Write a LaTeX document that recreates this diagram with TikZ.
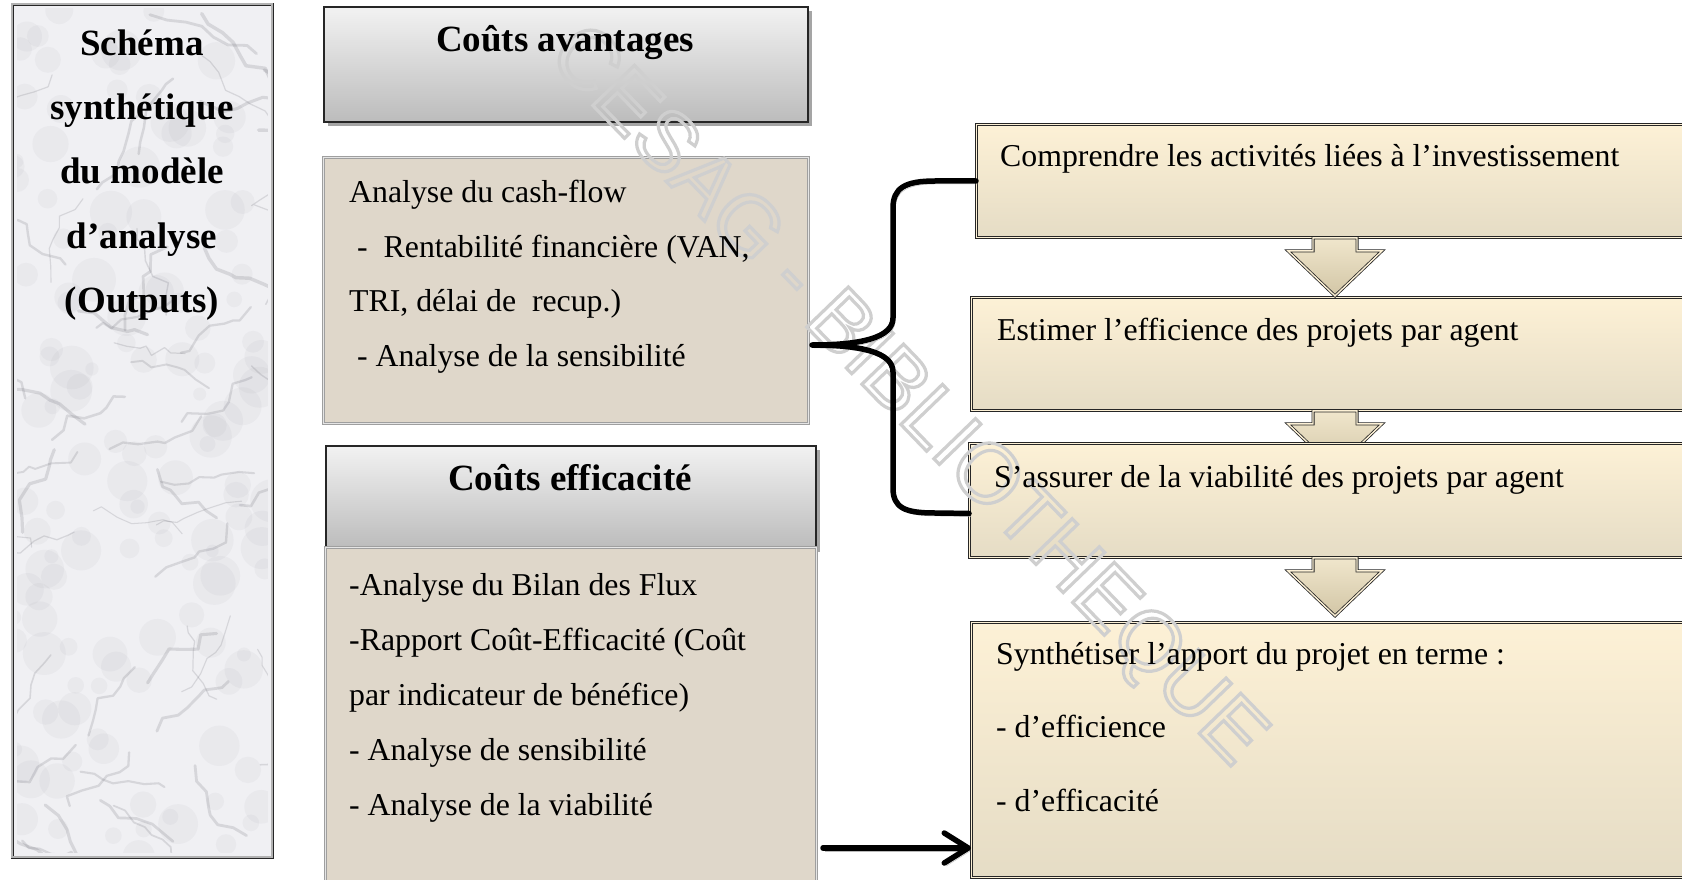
\documentclass[tikz,border=0pt]{standalone}
\usepackage{fontspec}
\setmainfont{Liberation Serif}
\newfontfamily\wmfont{Liberation Sans}
\usepackage{tikz}
\usetikzlibrary{arrows.meta,calc,shadows}
\definecolor{marble}{RGB}{240,240,243}
\definecolor{vein}{RGB}{110,110,120}
\definecolor{sand}{RGB}{223,215,202}
\definecolor{headtop}{RGB}{242,242,242}
\definecolor{headbot}{RGB}{188,188,188}
\definecolor{creamtop}{RGB}{253,241,214}
\definecolor{creambot}{RGB}{229,220,197}
\definecolor{arrtop}{RGB}{240,230,204}
\definecolor{arrbot}{RGB}{210,198,166}

\tikzset{
  panel/.style={anchor=north west,inner sep=0,fill=marble,draw=black!85,line width=0.8pt,double=gray!60,double distance=2pt},
  headbox/.style={anchor=north west,inner sep=0,draw=black!85,line width=1.6pt,top color=headtop,bottom color=headbot,drop shadow={shadow xshift=4pt,shadow yshift=-4pt,fill=black!70}},
  anabox/.style={anchor=north west,inner sep=0,fill=sand,draw=gray!75,line width=0.9pt,double=gray!20,double distance=1.6pt},
  stepbox/.style={anchor=north west,inner sep=0,top color=creamtop,bottom color=creambot,draw=black!85,line width=0.9pt,double=creamtop,double distance=1.6pt},
  downarr/.style={top color=arrtop,bottom color=arrbot,draw=black!85,line width=0.8pt,double=creamtop,double distance=1.4pt,line join=miter},
  brace/.style={line width=5.5pt,line cap=round,line join=round,preaction={draw=gray!55,transform canvas={xshift=2pt,yshift=-3pt}}},
  paneltxt/.style={inner sep=0,anchor=north,align=center,font=\bfseries\fontsize{37}{64.4}\selectfont},
  headtxt/.style={inner sep=0,anchor=base,font=\bfseries\fontsize{37}{44}\selectfont},
  bodytxt/.style={inner sep=0,align=left,font=\fontsize{31.8}{54.5}\selectfont},
  wmark/.style={inner sep=0,text=gray!38,font=\wmfont\fontsize{84}{90}\selectfont}
}

\begin{document}
\begin{tikzpicture}[x=1pt,y=-1pt]
  \useasboundingbox (0,0) rectangle (1682,880);
  \fill[white] (0,0) rectangle (1682,880);
  \clip (0,0) rectangle (1682,880);
  % left panel
  \node[panel,minimum width=260,minimum height=853] (P) at (12,4) {};
  \begin{scope}
    \clip ($(P.north west)+(5,5)$) rectangle ($(P.south east)+(-5,-5)$);
    \pgfmathsetseed{7}
    \foreach \i in {1,...,140}
      \fill[vein,opacity=0.05] ({12+260*rnd},{4+853*rnd}) circle ({6+16*rnd});
    \foreach \i in {1,...,55}{
      \pgfmathsetmacro\vt{-65+130*rnd}
      \draw[vein,opacity=0.2,line width={1+2.5*rnd},line join=round,line cap=round] ({-20+300*rnd},{4+853*rnd})
        \foreach \k in {1,...,7}{ -- ++({\vt-40+80*rnd}:{6+14*rnd}) };
    }
  \end{scope}
  % cost boxes
  \node[headbox,minimum width=484,minimum height=115] (H1) at (323,6) {};
  \node[anabox,minimum width=485,minimum height=266] (A1) at (323,157) {};
  \node[headbox,minimum width=490,minimum height=102] (H2) at (325,445) {};
  \node[anabox,minimum width=491,minimum height=345] (A2) at (325,547) {};
  % steps on the right
  \coordinate (ax) at (1335,0);
  \node[stepbox,minimum width=740,minimum height=113] (R1) at (976,124) {};
  \node[stepbox,minimum width=740,minimum height=113] (R2) at (971,297) {};
  \foreach \f in {R1,R2}
    \draw[downarr] (\f.south -| ax) ++(-22,0) -- ++(0,13) -- ++(-25,0) -- ++(47,45) -- ++(47,-45) -- ++(-25,0) -- ++(0,-13) -- cycle;
  \node[stepbox,minimum width=740,minimum height=114] (R3) at (969,443) {};
  \node[stepbox,minimum width=740,minimum height=255] (R4) at (971,622) {};
  \draw[downarr] (R3.south -| ax) ++(-22,0) -- ++(0,13) -- ++(-25,0) -- ++(47,45) -- ++(47,-45) -- ++(-25,0) -- ++(0,-13) -- cycle;
  % watermark
  \begin{scope}
    \node[wmark,rotate=-46] (wm) at (905,398) {\special{pdf:literal direct 1 Tr 3.2 w}CESAG - BIBLIOTHEQUE\special{pdf:literal direct 0 Tr 1 w}};
  \end{scope}
  % brace and arrow
  \coordinate (bt) at (812,345);
  \coordinate (bb) at ($(R3.west)+(0,13)$);
  \draw[brace] (R1.west) -- (935,181) .. controls (905,181) and (893,188) .. (893,208) -- (893,318) .. controls (893,338) and (860,345) .. (bt) .. controls (860,345) and (893,352) .. (893,372) -- (893,488) .. controls (893,508) and (905,513) .. (935,513) -- (bb);
  \coordinate (as) at (823,848);
  \draw[brace,-{Straight Barb[round,length=24pt,width=30pt]}] (as) -- (as -| R4.west);
  % texts
  \node[paneltxt] (tP) at (142,9.9) {\strut Schéma\\synthétique\\du modèle\\d’analyse\\(Outputs)};
  \node[headtxt] (tH1) at (565,52) {Coûts avantages};
  \node[bodytxt,anchor=north west] (tA1) at (349,164.5) {\strut Analyse du cash-flow\\\hspace*{8pt}-\ \ Rentabilité financière (VAN,\\TRI, délai de\ \ recup.)\\\hspace*{8pt}- Analyse de la sensibilité};
  \node[headtxt] (tH2) at (570,490) {Coûts efficacité};
  \node[bodytxt,anchor=north west,font=\fontsize{31.8}{55}\selectfont] (tA2) at (349,556.5) {\strut -Analyse du Bilan des Flux\\-Rapport Coût-Efficacité (Coût\\par indicateur de bénéfice)\\- Analyse de sensibilité\\- Analyse de la viabilité};
  \node[bodytxt,anchor=base west] (tR1) at (1000,167) {Comprendre les activités liées à l’investissement};
  \node[bodytxt,anchor=base west] (tR2) at (997,340) {Estimer l’efficience des projets par agent};
  \node[bodytxt,anchor=base west] (tR3) at (994,487) {S’assurer de la viabilité des projets par agent};
  \node[bodytxt,anchor=north west,font=\fontsize{31.8}{73.5}\selectfont] (tR4) at (996,612.5) {\strut Synthétiser l’apport du projet en terme :\\- d’efficience\\- d’efficacité};
\end{tikzpicture}
\end{document}
